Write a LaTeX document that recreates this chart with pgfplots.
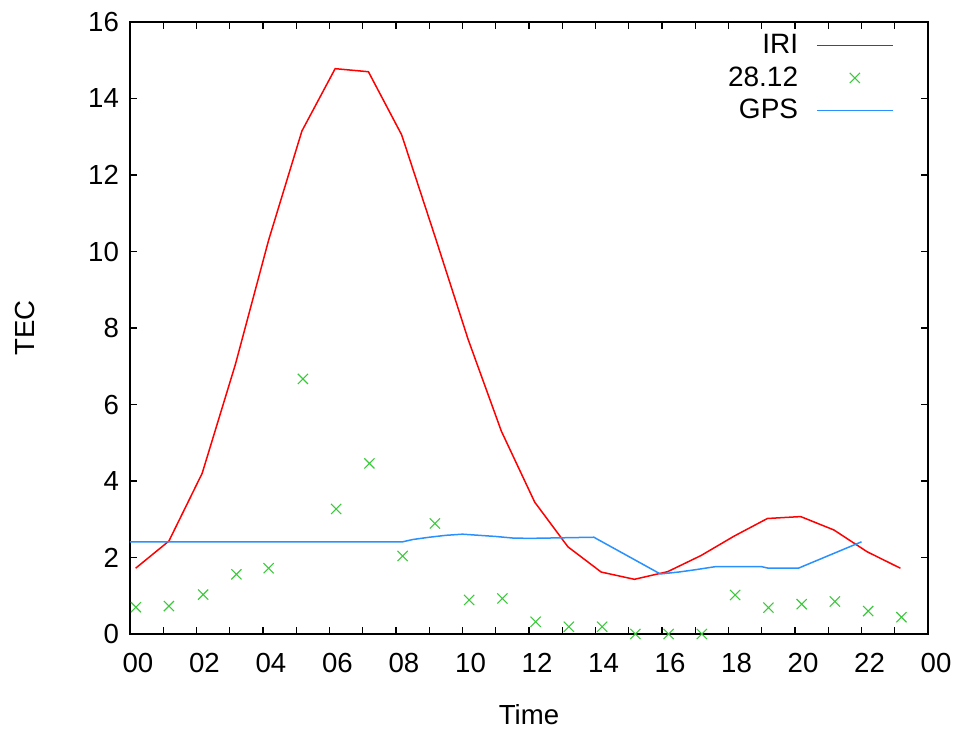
\documentclass[border=0pt]{standalone}
\usepackage{fontspec}
\setmainfont{Liberation Sans}
\usepackage{pgfplots}
\pgfplotsset{compat=1.18}
\definecolor{iri}{RGB}{255,0,0}
\definecolor{gps}{RGB}{40,145,255}
\definecolor{obs}{RGB}{60,200,60}
\pgfplotsset{widelegend/.style={legend image code/.code={\draw[mark repeat=2,mark phase=2,##1] plot coordinates {(0pt,0pt) (19pt,0pt) (38pt,0pt)};}}}
\begin{document}
\begin{tikzpicture}
\begin{axis}[
  scale only axis, width=399pt, height=306pt,
  xmin=0, xmax=24, ymin=0, ymax=16,
  xtick={0,2,...,24}, minor xtick={1,3,...,23},
  xticklabels={00,02,04,06,08,10,12,14,16,18,20,22,00},
  ytick={0,2,...,16},
  tick align=inside, major tick length=3.5pt, minor tick length=3.5pt,
  tick style={black, line width=0.6pt},
  axis line style={line width=0.75pt, black},
  /pgf/number format/assume math mode=true,
  tick label style={font=\fontsize{13.8}{16}\selectfont},
  xticklabel style={xshift=4pt, yshift=-6pt},
  yticklabel style={xshift=-2pt},
  xlabel={Time}, ylabel={TEC},
  label style={font=\fontsize{13.8}{16}\selectfont},
  xlabel style={at={(axis description cs:0.5,-0.1324)}, anchor=center},
  ylabel style={at={(axis description cs:-0.1316,0.5)}, anchor=center},
  legend plot pos=right,
  legend cell align=right,
  legend style={draw=none, fill=none, at={(axis description cs:1,1)}, anchor=north east,
    xshift=-14pt, yshift=-2pt, font=\fontsize{14}{16}\selectfont, row sep=1pt, column sep=7pt},
  widelegend,
  clip=false,
]
\addplot[iri, line width=0.75pt] coordinates {
(0.17,1.72) (1.17,2.43) (2.17,4.2) (3.17,7.05) (4.17,10.3) (5.17,13.15)
(6.17,14.78) (7.17,14.7) (8.17,13.05) (9.17,10.4) (10.17,7.7) (11.17,5.3)
(12.17,3.45) (13.17,2.28) (14.17,1.62) (15.17,1.43) (16.17,1.63) (17.17,2.05)
(18.17,2.56) (19.17,3.02) (20.17,3.07) (21.17,2.72) (22.17,2.15) (23.17,1.72)
};
\addlegendentry{IRI}
\addplot[obs, only marks, mark=x, mark size=3.6pt, mark options={line width=0.55pt}, widelegend] coordinates {
(0.18,0.70) (1.17,0.73) (2.2,1.03) (3.2,1.56) (4.17,1.72) (5.2,6.67)
(6.2,3.27) (7.2,4.46) (8.2,2.04) (9.17,2.89) (10.2,0.89) (11.2,0.93)
(12.2,0.32) (13.2,0.19) (14.2,0.19) (15.2,0.0) (16.2,0.0) (17.2,0.0)
(18.2,1.02) (19.2,0.69) (20.2,0.78) (21.2,0.85) (22.2,0.60) (23.2,0.44)
};
\addlegendentry{28.12}
\addplot[gps, line width=0.75pt] coordinates {
(0,2.41) (8.2,2.41) (8.5,2.47) (9,2.53) (9.5,2.58) (10,2.61) (10.5,2.58)
(11,2.55) (11.5,2.51) (12,2.50) (13.95,2.53) (15.95,1.57) (16.5,1.62)
(17,1.68) (17.6,1.76) (19,1.76) (19.2,1.72) (20.1,1.72) (22.0,2.41)
};
\addlegendentry{GPS}
\end{axis}
\path (current axis.south west) ++(-65pt,-48.5pt) coordinate (bbA);
\path (current axis.north east) ++(16.5pt,11pt) coordinate (bbB);
\path (bbA) rectangle (bbB);
\end{tikzpicture}
\end{document}
